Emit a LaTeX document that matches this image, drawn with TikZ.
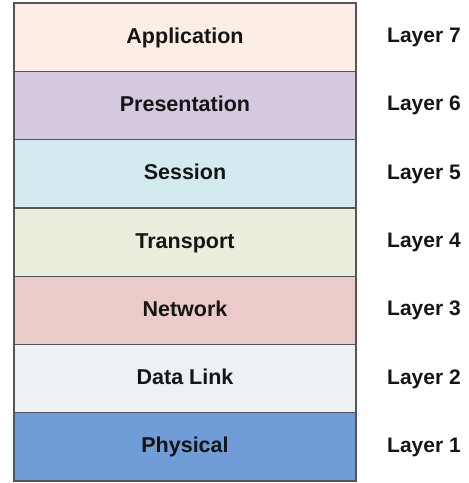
\documentclass[tikz,border=0pt]{standalone}
\usepackage{fontspec}
\setmainfont{Liberation Sans}
\definecolor{cApp}{HTML}{FCEEE4}
\definecolor{cPre}{HTML}{D4C9DF}
\definecolor{cSes}{HTML}{D3EAEE}
\definecolor{cTra}{HTML}{EAEEDD}
\definecolor{cNet}{HTML}{EBCBC9}
\definecolor{cDat}{HTML}{EDF0F4}
\definecolor{cPhy}{HTML}{709CD8}
\definecolor{cBord}{HTML}{555555}
\definecolor{cTxt}{HTML}{151515}
\begin{document}
\begin{tikzpicture}[x=1pt,y=1pt,
  layerbox/.style={draw=cBord, line width=1.3pt, minimum width=342pt, minimum height=68.3pt, inner sep=0pt, outer sep=0pt, anchor=north west,
    font=\fontsize{21.5}{24}\selectfont\bfseries, text=cTxt, text height=15pt, text depth=3pt},
  layerlbl/.style={font=\fontsize{21}{24}\selectfont\bfseries, text=cTxt, anchor=center, inner sep=0pt, text height=15pt, text depth=4pt}]
\useasboundingbox (0,0) rectangle (469,-483);
\node[layerbox, fill=cApp] (app) at (14,-3) {Application};
\node[layerbox, fill=cPre] (pre) at (app.south west) {Presentation};
\node[layerbox, fill=cSes] (ses) at (pre.south west) {Session};
\node[layerbox, fill=cTra] (tra) at (ses.south west) {Transport};
\node[layerbox, fill=cNet] (net) at (tra.south west) {Network};
\node[layerbox, fill=cDat] (dat) at (net.south west) {Data Link};
\node[layerbox, fill=cPhy] (phy) at (dat.south west) {Physical};
\node[layerlbl] (l7) at (424,|-app.center) {Layer 7};
\node[layerlbl] (l6) at (424,|-pre.center) {Layer 6};
\node[layerlbl] (l5) at (424,|-ses.center) {Layer 5};
\node[layerlbl] (l4) at (424,|-tra.center) {Layer 4};
\node[layerlbl] (l3) at (424,|-net.center) {Layer 3};
\node[layerlbl] (l2) at (424,|-dat.center) {Layer 2};
\node[layerlbl] (l1) at (424,|-phy.center) {Layer 1};
\end{tikzpicture}
\end{document}
